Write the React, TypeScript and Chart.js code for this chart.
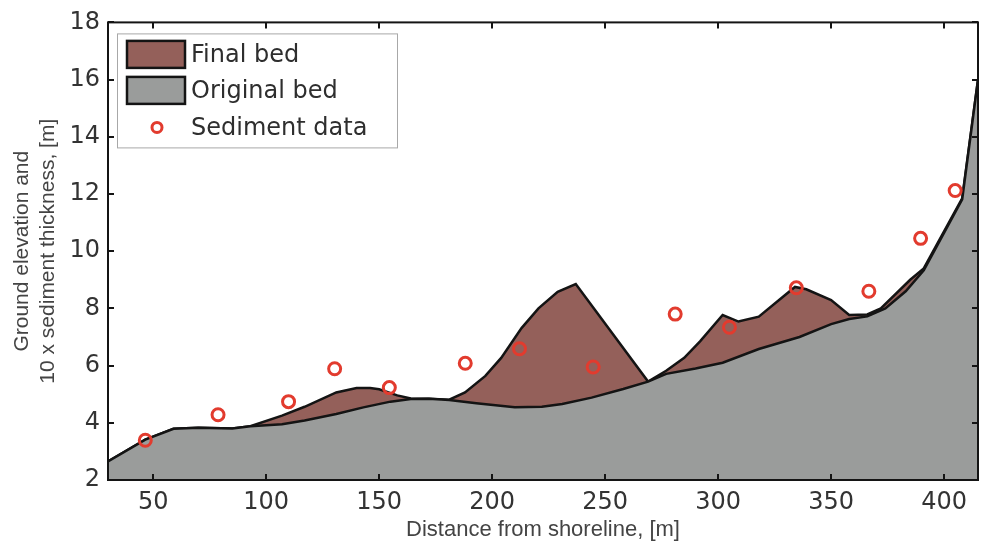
import { useEffect, useRef } from "react";
import { Chart, registerables } from "chart.js";

Chart.register(...registerables);

// ---- data ----
const xTicks = [50, 100, 150, 200, 250, 300, 350, 400];
const yTicks = [2, 4, 6, 8, 10, 12, 14, 16, 18];

const originalX = [30, 46.5, 59, 70, 85, 93, 107, 117, 131, 143, 155, 164, 172, 181, 193, 210, 222, 231, 244, 258, 269, 277, 290, 302, 318, 336, 350, 358, 366, 374, 383, 391, 408, 415];
const originalY = [2.65, 3.41, 3.79, 3.83, 3.8, 3.88, 3.95, 4.08, 4.31, 4.54, 4.74, 4.83, 4.84, 4.8, 4.68, 4.54, 4.56, 4.66, 4.88, 5.18, 5.44, 5.71, 5.9, 6.1, 6.58, 7.0, 7.45, 7.63, 7.72, 8.0, 8.6, 9.33, 11.81, 16.0];

const finalX = [30, 46.5, 59, 70, 85, 93, 107, 117, 131, 140, 146, 150, 158, 164, 172, 181, 188, 197, 204, 213, 220.5, 229, 237, 269, 277, 285, 292, 302, 309, 318, 334, 339, 350, 358, 366, 372, 385, 391, 408, 415];
const finalY = [2.65, 3.41, 3.79, 3.83, 3.8, 3.88, 4.25, 4.56, 5.06, 5.22, 5.22, 5.17, 4.96, 4.85, 4.84, 4.81, 5.06, 5.64, 6.27, 7.31, 8.0, 8.58, 8.85, 5.44, 5.82, 6.27, 6.85, 7.77, 7.54, 7.71, 8.75, 8.67, 8.29, 7.77, 7.79, 8.0, 9.0, 9.4, 11.85, 16.0];

const sedimentX = [46.5, 78.7, 109.9, 130.3, 154.5, 188.1, 212.1, 244.7, 281, 305, 334.6, 366.7, 389.6, 404.9];
const sedimentY = [3.39, 4.28, 4.74, 5.89, 5.23, 6.08, 6.59, 5.95, 7.8, 7.34, 8.72, 8.6, 10.45, 12.12];

const legendLabels = ["Final bed", "Original bed", "Sediment data"];

const BROWN = "#94605a";
const GRAY = "#9a9c9b";
const RED = "#e23b2e";
const LINE = "#141414";
const TICK_FONT = "'DejaVu Sans', sans-serif";
const TITLE_FONT = "'Liberation Sans', Arial, sans-serif";

const zip = (xs: number[], ys: number[]) => xs.map((x, i) => ({ x, y: ys[i] }));

const framePlugin = {
  id: "frameAndLegend",
  afterDatasetsDraw(chart: any) {
    const { ctx, chartArea, scales } = chart;
    const { left, right, top, bottom } = chartArea;
    const xs = scales.x;
    const ys = scales.y;
    ctx.save();
    // frame
    ctx.strokeStyle = LINE;
    ctx.lineWidth = 2;
    ctx.strokeRect(left, top, right - left, bottom - top);
    // inward ticks
    const tl = 6;
    ctx.beginPath();
    xTicks.forEach((v) => {
      const px = Math.round(xs.getPixelForValue(v));
      ctx.moveTo(px, bottom);
      ctx.lineTo(px, bottom - tl);
      ctx.moveTo(px, top);
      ctx.lineTo(px, top + tl);
    });
    yTicks.forEach((v) => {
      const py = Math.round(ys.getPixelForValue(v));
      ctx.moveTo(left, py);
      ctx.lineTo(left + tl, py);
      ctx.moveTo(right, py);
      ctx.lineTo(right - tl, py);
    });
    ctx.stroke();

    // legend box
    const lx = left + 9;
    const ly = top + 11;
    const lw = 280;
    const lh = 114;
    ctx.fillStyle = "#ffffff";
    ctx.fillRect(lx, ly, lw, lh);
    ctx.strokeStyle = "#a8a8a8";
    ctx.lineWidth = 1;
    ctx.strokeRect(lx + 0.5, ly + 0.5, lw, lh);

    const ds = chart.data.datasets;
    const rows = [ly + 21, ly + 57, ly + 94];
    const swX = lx + 10;
    const swW = 58;
    const swH = 27;
    [0, 1].forEach((i) => {
      ctx.fillStyle = ds[i].backgroundColor;
      ctx.fillRect(swX, rows[i] - swH / 2, swW, swH);
      ctx.strokeStyle = LINE;
      ctx.lineWidth = 2.5;
      ctx.strokeRect(swX, rows[i] - swH / 2, swW, swH);
    });
    ctx.beginPath();
    ctx.arc(swX + swW / 2 + 1, rows[2], 5, 0, Math.PI * 2);
    ctx.strokeStyle = RED;
    ctx.lineWidth = 3;
    ctx.stroke();

    ctx.fillStyle = "#2e2e2e";
    ctx.font = `24px ${TICK_FONT}`;
    ctx.textBaseline = "middle";
    ctx.textAlign = "left";
    legendLabels.forEach((t, i) => ctx.fillText(t, swX + swW + 6, rows[i] + 1));
    ctx.restore();
  },
};

export default function App() {
  const ref = useRef<HTMLCanvasElement | null>(null);
  useEffect(() => {
    if (!ref.current) return;
    const chart = new Chart(ref.current, {
      type: "line",
      data: {
        datasets: [
          {
            label: legendLabels[0],
            data: zip(finalX, finalY),
            borderColor: LINE,
            borderWidth: 2.5,
            backgroundColor: BROWN,
            fill: "start",
            pointRadius: 0,
            tension: 0,
            order: 2,
          },
          {
            label: legendLabels[1],
            data: zip(originalX, originalY),
            borderColor: LINE,
            borderWidth: 2.5,
            backgroundColor: GRAY,
            fill: "start",
            pointRadius: 0,
            tension: 0,
            order: 1,
          },
          {
            type: "scatter",
            label: legendLabels[2],
            data: zip(sedimentX, sedimentY),
            borderColor: RED,
            backgroundColor: "rgba(0,0,0,0)",
            borderWidth: 3,
            pointRadius: 6,
            showLine: false,
            order: 0,
          } as any,
        ],
      },
      options: {
        animation: false,
        responsive: false,
        devicePixelRatio: 1,
        layout: { padding: { top: 18, right: 1, left: 0, bottom: 0 } },
        plugins: {
          legend: { display: false },
          tooltip: { enabled: false },
        },
        scales: {
          x: {
            type: "linear",
            min: 30,
            max: 415,
            grid: { display: false, drawTicks: false },
            border: { display: false },
            afterBuildTicks: (axis: any) => {
              axis.ticks = xTicks.map((value) => ({ value }));
            },
            afterFit: (scale: any) => {
              scale.height = 69;
            },
            ticks: {
              padding: 8,
              color: "#333333",
              font: { family: TICK_FONT, size: 24 },
              maxRotation: 0,
              autoSkip: false,
            },
            title: {
              display: true,
              text: "Distance from shoreline, [m]",
              color: "#444444",
              font: { family: TITLE_FONT, size: 22, lineHeight: 1.2 },
              padding: { top: 0, bottom: 6 },
            },
          },
          y: {
            type: "linear",
            min: 2,
            max: 18,
            grid: { display: false, drawTicks: false },
            border: { display: false },
            afterBuildTicks: (axis: any) => {
              axis.ticks = yTicks.map((value) => ({ value }));
            },
            afterFit: (scale: any) => {
              scale.width = 108;
            },
            ticks: {
              padding: 8,
              color: "#333333",
              font: { family: TICK_FONT, size: 24 },
              autoSkip: false,
            },
            title: {
              display: true,
              text: ["Ground elevation and", "10 x sediment thickness, [m]"],
              color: "#444444",
              font: { family: TITLE_FONT, size: 21, lineHeight: 1.25 },
              padding: { top: 9, bottom: 0 },
            },
          },
        },
      },
      plugins: [framePlugin],
    });
    return () => chart.destroy();
  }, []);

  return (
    <div style={{ position: "absolute", left: 0, top: 0, width: 987, height: 549, background: "#ffffff" }}>
      <canvas ref={ref} width={987} height={549} style={{ display: "block" }} />
    </div>
  );
}
